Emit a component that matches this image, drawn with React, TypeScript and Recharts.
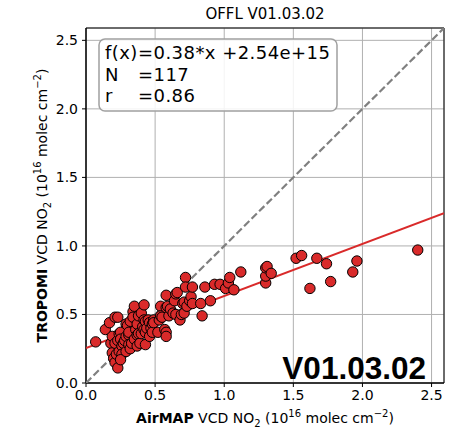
import React from 'react';
import { ScatterChart, Scatter, XAxis, YAxis, CartesianGrid, ReferenceArea } from 'recharts';

// AirMAP vs TROPOMI NO2 columns, units of 1e16 molec cm^-2
const airmap = [
  0.07, 0.14, 0.17, 0.18, 0.19, 0.19, 0.20, 0.21, 0.21, 0.21,
  0.23, 0.23, 0.22, 0.23, 0.24, 0.24, 0.25, 0.25, 0.26, 0.26,
  0.25, 0.27, 0.28, 0.29, 0.29, 0.29, 0.30, 0.31, 0.31, 0.31,
  0.32, 0.32, 0.33, 0.34, 0.34, 0.35, 0.35, 0.36, 0.37, 0.37,
  0.37, 0.38, 0.38, 0.39, 0.40, 0.40, 0.41, 0.42, 0.42, 0.42,
  0.43, 0.43, 0.43, 0.44, 0.45, 0.46, 0.46, 0.47, 0.48, 0.48,
  0.49, 0.49, 0.52, 0.53, 0.54, 0.54, 0.55, 0.57, 0.58, 0.58,
  0.58, 0.58, 0.59, 0.60, 0.61, 0.63, 0.64, 0.65, 0.65, 0.66,
  0.68, 0.69, 0.70, 0.71, 0.71, 0.72, 0.72, 0.73, 0.75, 0.76,
  0.77, 0.77, 0.83, 0.84, 0.86, 0.90, 0.93, 0.97, 1.01, 1.03,
  1.04, 1.07, 1.12, 1.30, 1.30, 1.30, 1.31, 1.34, 1.52, 1.56,
  1.62, 1.67, 1.74, 1.77, 1.93, 1.96, 2.40,
];
const tropomi = [
  0.30, 0.39, 0.44, 0.29, 0.34, 0.22, 0.18, 0.15, 0.29, 0.48,
  0.48, 0.11, 0.21, 0.31, 0.36, 0.23, 0.37, 0.32, 0.27, 0.21,
  0.17, 0.29, 0.31, 0.23, 0.34, 0.43, 0.42, 0.35, 0.28, 0.37,
  0.45, 0.25, 0.29, 0.52, 0.48, 0.56, 0.32, 0.39, 0.43, 0.35,
  0.27, 0.49, 0.36, 0.29, 0.36, 0.51, 0.41, 0.57, 0.46, 0.39,
  0.45, 0.37, 0.28, 0.40, 0.46, 0.34, 0.44, 0.40, 0.43, 0.37,
  0.46, 0.44, 0.37, 0.46, 0.56, 0.49, 0.48, 0.39, 0.64, 0.55,
  0.37, 0.34, 0.56, 0.49, 0.54, 0.51, 0.60, 0.65, 0.50, 0.66,
  0.46, 0.50, 0.58, 0.51, 0.59, 0.77, 0.70, 0.56, 0.60, 0.63,
  0.58, 0.70, 0.58, 0.49, 0.70, 0.60, 0.72, 0.72, 0.69, 0.73,
  0.77, 0.68, 0.81, 0.73, 0.78, 0.84, 0.85, 0.80, 0.91, 0.93,
  0.69, 0.91, 0.87, 0.74, 0.81, 0.89, 0.97,
];

const axisMax = 2.59;
const axisTicks = [0, 0.5, 1.0, 1.5, 2.0, 2.5];
const fitSlope = 0.38;
const fitIntercept = 0.254;
const statKeys = ['f(x)', 'N', 'r'];
const statValues = ['=0.38*x +2.54e+15', '=117', '=0.86'];
const title = 'OFFL V01.03.02';
const version = 'V01.03.02';

const points = airmap.map((x, i) => ({ x, y: tropomi[i] }));
const fitLine = [
  { x: 0, y: fitIntercept },
  { x: axisMax, y: fitSlope * axisMax + fitIntercept },
];
const oneToOne = [
  { x: 0, y: 0 },
  { x: axisMax, y: axisMax },
];

const FONT = 'DejaVu Sans';
const RED = '#d92a2a';

const Dot = (p: any) => (
  <circle cx={p.cx} cy={p.cy} r={5.2} fill={RED} stroke="#000" strokeWidth={1} />
);
const NoDot = () => <g />;

const XLabel = (props: any) => {
  const vb = props.viewBox;
  return (
    <text x={vb.x + vb.width / 2} y={vb.y + 40} textAnchor="middle" fontSize={14} fontFamily={FONT} fill="#000">
      <tspan fontWeight="bold">AirMAP</tspan>
      <tspan>{' VCD NO'}</tspan>
      <tspan fontSize={10} dy={4}>2</tspan>
      <tspan dy={-4}>{' (10'}</tspan>
      <tspan fontSize={10} dy={-6}>16</tspan>
      <tspan dy={6}>{' molec cm'}</tspan>
      <tspan fontSize={10} dy={-6}>−2</tspan>
      <tspan dy={6}>)</tspan>
    </text>
  );
};

const YLabel = (props: any) => {
  const vb = props.viewBox;
  const cx = 47;
  const cy = vb.y + vb.height / 2;
  return (
    <text x={cx} y={cy} transform={`rotate(-90 ${cx} ${cy})`} textAnchor="middle" fontSize={14} fontFamily={FONT} fill="#000">
      <tspan fontWeight="bold">TROPOMI</tspan>
      <tspan>{' VCD NO'}</tspan>
      <tspan fontSize={10} dy={4}>2</tspan>
      <tspan dy={-4}>{' (10'}</tspan>
      <tspan fontSize={10} dy={-6}>16</tspan>
      <tspan dy={6}>{' molec cm'}</tspan>
      <tspan fontSize={10} dy={-6}>−2</tspan>
      <tspan dy={6}>)</tspan>
    </text>
  );
};

const tickStyle = { fontSize: 14, fill: '#000', fontFamily: FONT };

// all "=" signs in the stats box line up in one column
const EQ_X = 138;

export default function App() {
  return (
    <div style={{ position: 'absolute', left: 0, top: 0, width: 456, height: 434, background: '#fff' }}>
      <ScatterChart width={456} height={434} margin={{ top: 28, right: 12, bottom: 0, left: 0 }}>
        <CartesianGrid stroke="#b0b0b0" strokeWidth={1} ticks={axisTicks} />
        <XAxis
          type="number"
          dataKey="x"
          domain={[0, axisMax]}
          ticks={axisTicks}
          allowDataOverflow
          height={51}
          tickSize={4}
          tickMargin={3}
          tick={tickStyle}
          tickFormatter={(v: number) => v.toFixed(1)}
          axisLine={{ stroke: '#000' }}
          tickLine={{ stroke: '#000' }}
          label={{ content: XLabel }}
        />
        <YAxis
          type="number"
          dataKey="y"
          domain={[0, axisMax]}
          ticks={axisTicks}
          allowDataOverflow
          width={86}
          tickSize={4}
          tickMargin={4}
          tick={tickStyle}
          tickFormatter={(v: number) => v.toFixed(1)}
          axisLine={{ stroke: '#000' }}
          tickLine={{ stroke: '#000' }}
          label={{ content: YLabel }}
        />
        <ReferenceArea x1={0} x2={axisMax} y1={0} y2={axisMax} fill="none" stroke="#000" strokeWidth={1} />
        <Scatter
          data={oneToOne}
          shape={NoDot}
          line={{ stroke: '#808080', strokeWidth: 2.2, strokeDasharray: '7.4 3.2' }}
          isAnimationActive={false}
        />
        <Scatter
          data={fitLine}
          shape={NoDot}
          line={{ stroke: RED, strokeWidth: 2 }}
          isAnimationActive={false}
        />
        <Scatter data={points} shape={Dot} isAnimationActive={false} />
      </ScatterChart>
      <svg width={456} height={434} style={{ position: 'absolute', left: 0, top: 0, pointerEvents: 'none' }}>
        <text x={265} y={19} textAnchor="middle" fontSize={15} fontFamily={FONT} fill="#000">{title}</text>
        <rect x={99} y={39} width={238} height={72} rx={6} fill="#fff" fillOpacity={0.85} stroke="#a0a0a0" strokeWidth={1.5} />
        {statKeys.map((k, i) => (
          <text key={k} x={105} y={59 + i * 21.5} fontSize={18} letterSpacing={0.45} fontFamily={FONT} fill="#000">
            <tspan>{k}</tspan>
            <tspan x={EQ_X}>{statValues[i]}</tspan>
          </text>
        ))}
        <text x={426} y={379} textAnchor="end" fontSize={31.5} fontWeight="bold" fontFamily="Liberation Sans" fill="#000">
          {version}
        </text>
      </svg>
    </div>
  );
}
